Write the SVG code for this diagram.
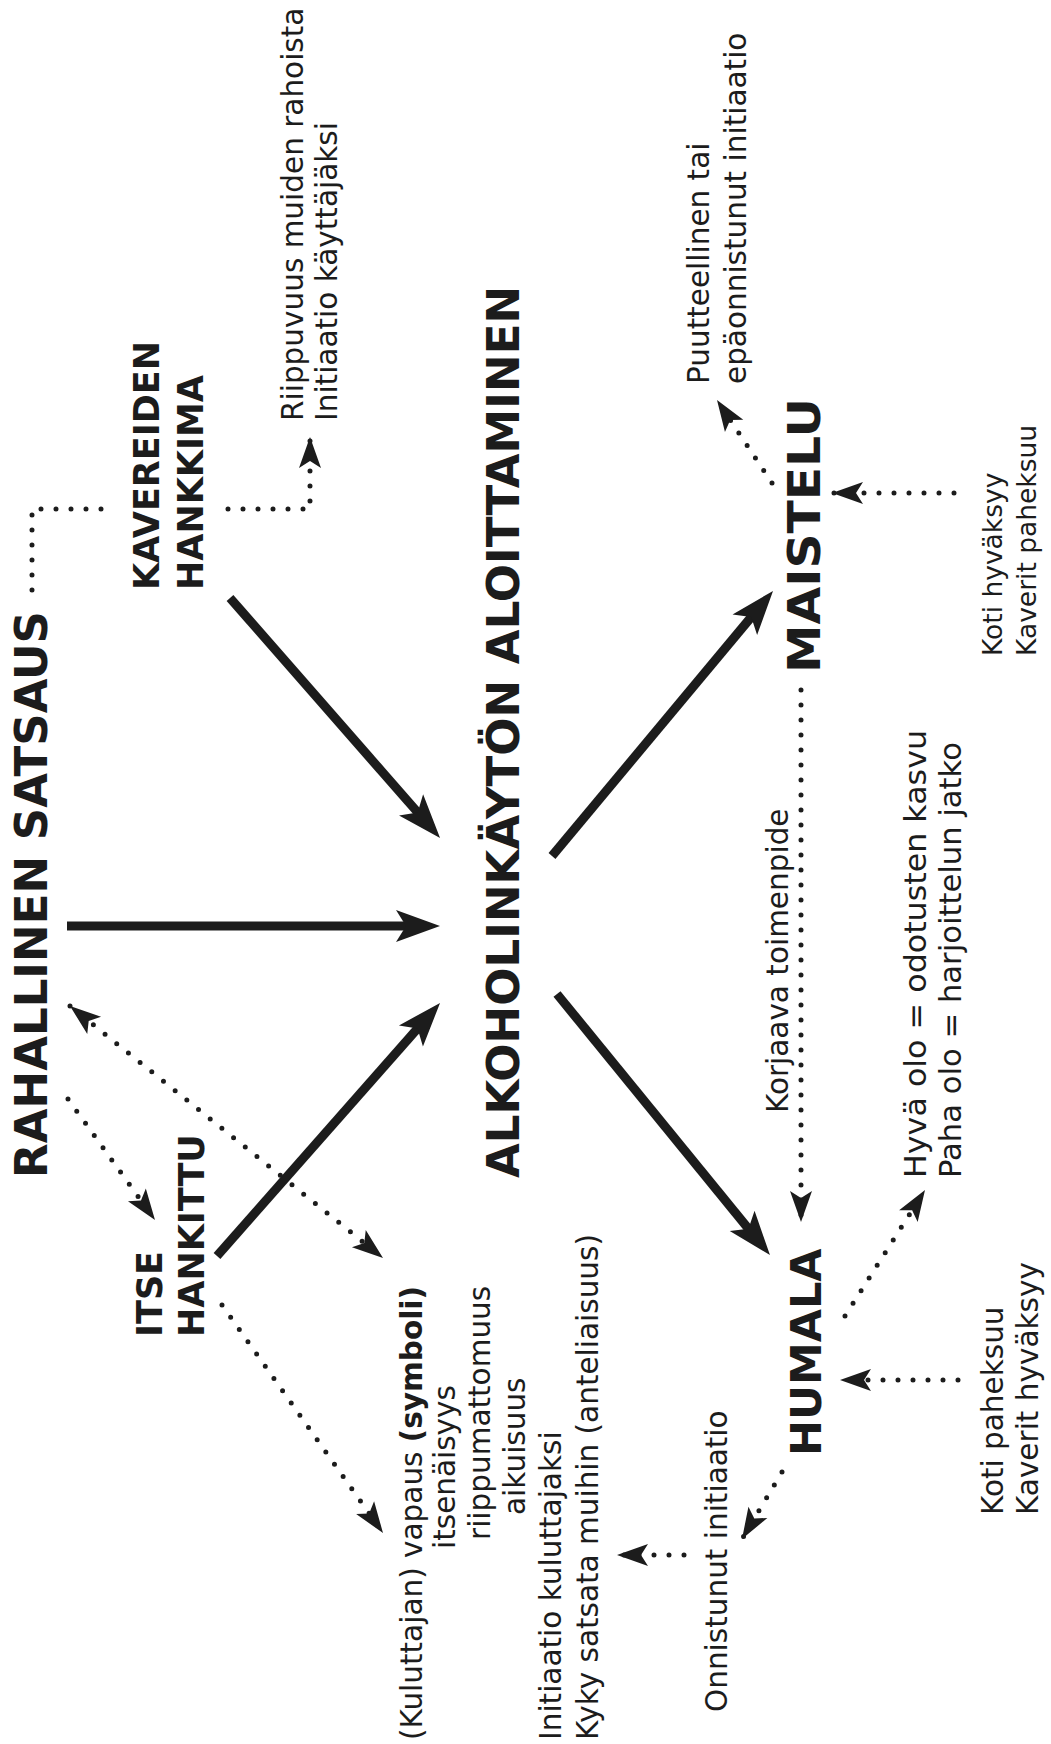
<svg xmlns="http://www.w3.org/2000/svg" width="1051" height="1744" viewBox="0 0 1051 1744">
<style>
text{fill:#1c1c1c;font-family:"DejaVu Sans","Liberation Sans",sans-serif}
.big{font-weight:bold;font-size:45px}
.mid{font-weight:bold;font-size:35px}
.sm{font-size:29.5px}
.solid{stroke:#1c1c1c;stroke-width:9;fill:none;marker-end:url(#ah)}
.dot{stroke:#1c1c1c;stroke-width:5;stroke-dasharray:0 15;stroke-linecap:round;fill:none}
.dend{marker-end:url(#dh)}
.dboth{marker-start:url(#dh);marker-end:url(#dh)}
</style>
<defs>
<marker id="ah" markerUnits="userSpaceOnUse" orient="auto" refX="0" refY="0" markerWidth="10" markerHeight="10" overflow="visible"><path d="M30,0 L-14,-16 L-4,0 L-14,16 Z" fill="#1c1c1c"/></marker>
<marker id="dh" markerUnits="userSpaceOnUse" orient="auto-start-reverse" refX="0" refY="0" markerWidth="10" markerHeight="10" overflow="visible"><path d="M0,0 L-31,-11 L-24,0 L-31,11 Z" fill="#1c1c1c"/></marker>
</defs>
<rect width="1051" height="1744" fill="#ffffff"/>

<g id="connectors">
<line class="solid" x1="230" y1="598" x2="420.3" y2="815.4"/>
<line class="solid" x1="67" y1="926" x2="410" y2="926"/>
<line class="solid" x1="217" y1="1256" x2="420.2" y2="1025.5"/>
<line class="solid" x1="552" y1="856" x2="753.8" y2="614"/>
<line class="solid" x1="557" y1="994" x2="751" y2="1231.8"/>
<path class="dot" d="M32,590 V509 H112"/>
<path class="dot dend" d="M228,509 H310 V437"/>
<line class="dot dboth" x1="70" y1="1006" x2="383" y2="1258"/>
<line class="dot dend" x1="68" y1="1099" x2="155" y2="1220"/>
<line class="dot dend" x1="222" y1="1305" x2="383" y2="1533"/>
<line class="dot dend" x1="772" y1="483" x2="717" y2="400"/>
<line class="dot dend" x1="954" y1="493" x2="832" y2="493"/>
<line class="dot dend" x1="801" y1="690" x2="801" y2="1222"/>
<line class="dot dend" x1="845" y1="1316" x2="925" y2="1190"/>
<line class="dot dend" x1="958" y1="1380" x2="840" y2="1380"/>
<line class="dot dend" x1="782" y1="1472" x2="742" y2="1539"/>
<line class="dot dend" x1="684" y1="1555" x2="617" y2="1555"/>
</g>

<g id="rahallinen-satsaus"><text class="big" transform="translate(47,1178) rotate(-90)">RAHALLINEN SATSAUS</text></g>
<g id="alkoholinkaytto"><text class="big" transform="translate(519,1178) rotate(-90)">ALKOHOLINKÄYTÖN ALOITTAMINEN</text></g>
<g id="kavereiden-hankkima"><text class="mid" transform="translate(159,590) rotate(-90)"><tspan x="0" y="0">KAVEREIDEN</tspan><tspan x="0" y="44">HANKKIMA</tspan></text></g>
<g id="itse-hankittu"><text class="mid" transform="translate(162,1337) rotate(-90)"><tspan x="0" y="0">ITSE</tspan><tspan x="0" y="42">HANKITTU</tspan></text></g>
<g id="maistelu"><text class="big" transform="translate(820,673) rotate(-90)" textLength="275" lengthAdjust="spacingAndGlyphs">MAISTELU</text></g>
<g id="humala"><text class="big" style="font-size:43px" transform="translate(821,1456) rotate(-90)">HUMALA</text></g>

<g id="riippuvuus"><text class="sm" transform="translate(303,421) rotate(-90)"><tspan x="0" y="0">Riippuvuus muiden rahoista</tspan><tspan x="0" y="34">Initiaatio käyttäjäksi</tspan></text></g>
<g id="puutteellinen"><text class="sm" transform="translate(709,384) rotate(-90)"><tspan x="0" y="0">Puutteellinen tai</tspan><tspan x="0" y="37">epäonnistunut initiaatio</tspan></text></g>
<g id="koti-hyvaksyy"><text class="sm" style="font-size:26.5px" transform="translate(1002,656) rotate(-90)"><tspan x="0" y="0">Koti hyväksyy</tspan><tspan x="0" y="34">Kaverit paheksuu</tspan></text></g>
<g id="korjaava"><text class="sm" transform="translate(788,1113) rotate(-90)">Korjaava toimenpide</text></g>
<g id="hyva-olo"><text class="sm" transform="translate(926,1178) rotate(-90)"><tspan x="0" y="0" textLength="448" lengthAdjust="spacingAndGlyphs">Hyvä olo = odotusten kasvu</tspan><tspan x="0" y="35" textLength="436" lengthAdjust="spacingAndGlyphs">Paha olo = harjoittelun jatko</tspan></text></g>
<g id="koti-paheksuu"><text class="sm" transform="translate(1003,1515) rotate(-90)"><tspan x="0" y="0">Koti paheksuu</tspan><tspan x="0" y="35">Kaverit hyväksyy</tspan></text></g>
<g id="onnistunut"><text class="sm" transform="translate(727,1712) rotate(-90)">Onnistunut initiaatio</text></g>
<g id="kuluttajan-vapaus">
<text class="sm" transform="translate(422,1740) rotate(-90)">(Kuluttajan) vapaus <tspan font-weight="bold">(symboli)</tspan></text>
<text class="sm" transform="translate(455,1549) rotate(-90)">itsenäisyys</text>
<text class="sm" transform="translate(490,1540) rotate(-90)">riippumattomuus</text>
<text class="sm" transform="translate(525,1515) rotate(-90)">aikuisuus</text>
</g>
<g id="initiaatio-kuluttajaksi">
<text class="sm" transform="translate(561,1740) rotate(-90)">Initiaatio kuluttajaksi</text>
<text class="sm" transform="translate(598,1740) rotate(-90)">Kyky satsata muihin (anteliaisuus)</text>
</g>
</svg>
